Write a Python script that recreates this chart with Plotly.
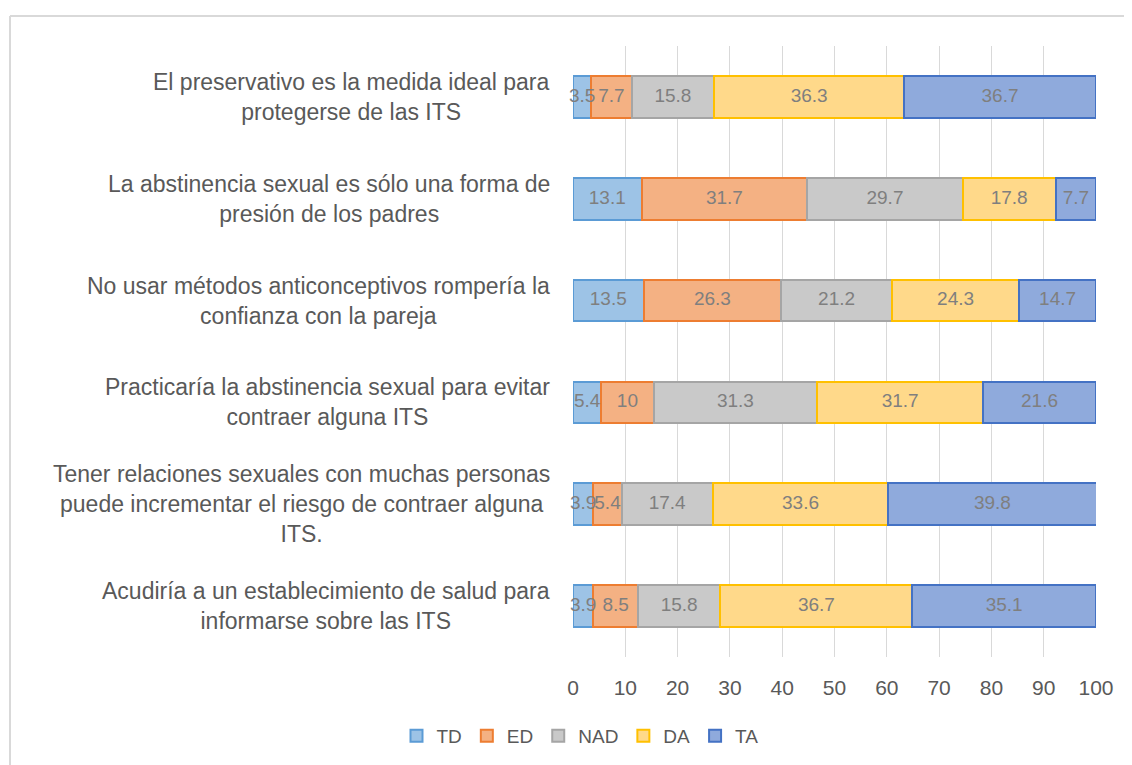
import plotly.graph_objects as go

categories = [
    "El preservativo es la medida ideal para<br>protegerse de las ITS",
    "La abstinencia sexual es sólo una forma de<br>presión de los padres",
    "No usar métodos anticonceptivos rompería la<br>confianza con la pareja",
    "Practicaría la abstinencia sexual para evitar<br>contraer alguna ITS",
    "Tener relaciones sexuales con muchas personas<br>puede incrementar el riesgo de contraer alguna<br>ITS.",
    "Acudiría a un establecimiento de salud para<br>informarse sobre las ITS",
]
series_names = ["TD", "ED", "NAD", "DA", "TA"]
TD = [3.5, 13.1, 13.5, 5.4, 3.9, 3.9]
ED = [7.7, 31.7, 26.3, 10, 5.4, 8.5]
NAD = [15.8, 29.7, 21.2, 31.3, 17.4, 15.8]
DA = [36.3, 17.8, 24.3, 31.7, 33.6, 36.7]
TA = [36.7, 7.7, 14.7, 21.6, 39.8, 35.1]
x_ticks = [0, 10, 20, 30, 40, 50, 60, 70, 80, 90, 100]

series_values = [TD, ED, NAD, DA, TA]
fills = ["#9dc3e6", "#f4b183", "#c9c9c9", "#ffd98a", "#8faadc"]
borders = ["#5b9bd5", "#ed7d31", "#a5a5a5", "#ffc000", "#4472c4"]

# page has an 8px body margin; figure coordinates are offset accordingly
OFF = 8
W, H = 1132, 765
L = 573 - OFF
T = 46 - OFF
R = W - (1096 - OFF)
B = H - (657 - OFF)
pw = W - L - R
ph = H - T - B

FONT = "Liberation Sans, Arial, sans-serif"
cat_ids = list(range(len(categories)))

fig = go.Figure()
for name, vals, f, b in zip(series_names, series_values, fills, borders):
    fig.add_trace(go.Bar(
        name=name, y=cat_ids, x=vals, orientation="h",
        marker=dict(color=f, line=dict(color=b, width=2)),
        width=0.41, hoverinfo="x+name",
    ))

# segment value labels, drawn on top of all bars (centre of each segment)
lab_x, lab_y, lab_t = [], [], []
cum = [0.0] * len(categories)
for vals in series_values:
    for i, v in enumerate(vals):
        lab_x.append(cum[i] + v / 2)
        lab_y.append(cat_ids[i])
        lab_t.append(f"{v:g}")
        cum[i] += v
fig.add_trace(go.Scatter(
    x=lab_x, y=lab_y, text=lab_t, mode="text", cliponaxis=False,
    textposition="middle center", showlegend=False, hoverinfo="skip",
    textfont=dict(size=19, color="#7f7f7f", family=FONT),
))

# category labels: centered multi-line blocks right-anchored left of plot
for cid, cat in zip(cat_ids, categories):
    fig.add_annotation(
        x=-21 / pw, xref="paper", y=cid, yref="y",
        text=cat, showarrow=False, xanchor="right", yanchor="middle",
        align="center",
        font=dict(size=23, color="#595959", family=FONT),
    )

# outer chart border (top and left visible)
bx = 10 - OFF - L
by = H - B - (16 - OFF)
fig.add_shape(type="line", xref="paper", yref="paper",
              x0=bx / pw, x1=(W + 5 - L) / pw,
              y0=by / ph, y1=by / ph,
              line=dict(color="#d9d9d9", width=2))
fig.add_shape(type="line", xref="paper", yref="paper",
              x0=bx / pw, x1=bx / pw,
              y0=by / ph, y1=-(B + 5) / ph,
              line=dict(color="#d9d9d9", width=2))

fig.update_layout(
    width=W, height=H,
    margin=dict(l=L, r=R, t=T, b=B, autoexpand=False),
    barmode="stack", bargap=0.59,
    plot_bgcolor="white", paper_bgcolor="white",
    font=dict(family=FONT, color="#595959", size=21),
    showlegend=True,
    legend=dict(orientation="h", x=(580 - OFF - L) / pw, xanchor="center",
                y=(H - B - (736 - OFF)) / ph, yanchor="middle",
                font=dict(size=19, color="#595959"),
                itemwidth=30, traceorder="normal"),
    xaxis=dict(range=[0, 100], tickvals=x_ticks, showgrid=True,
               gridcolor="#d9d9d9", gridwidth=1, zeroline=False,
               showline=False, ticks="", ticklabelstandoff=16,
               tickfont=dict(size=21, color="#595959")),
    yaxis=dict(tickvals=cat_ids, showticklabels=False,
               range=[len(categories) - 0.5, -0.5], autorange=False,
               showgrid=False, zeroline=False, showline=False),
)

fig.write_html("out.html")
